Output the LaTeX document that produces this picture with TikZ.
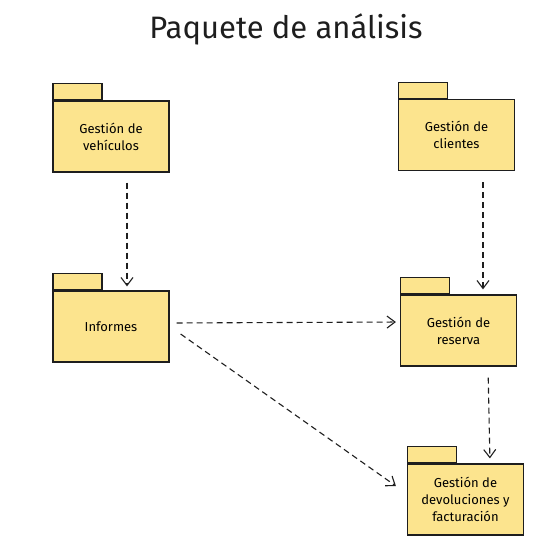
\documentclass[tikz,border=0pt]{standalone}
\usepackage{fontspec}
\setmainfont{Fira Sans}
\usepackage{xcolor}
\usepackage{tikz}
\usetikzlibrary{arrows.meta,positioning}
\definecolor{pkgyellow}{RGB}{252,228,142}
\definecolor{inkdark}{RGB}{30,30,30}

\begin{document}
\begin{tikzpicture}[x=1pt, y=-1pt,
    pkg/.style={rectangle, draw=inkdark, fill=pkgyellow, line width=1.2pt, minimum width=116pt, minimum height=71pt, align=center, font=\fontsize{13}{17}\selectfont, inner sep=0pt},
    pkgtab/.style={rectangle, draw=inkdark, fill=pkgyellow, line width=1.2pt, minimum width=49pt, minimum height=16pt, inner sep=0pt, anchor=south west},
    dep/.style={-{Straight Barb[length=8pt, width=12pt]}, dashed, dash pattern=on 6pt off 4pt, line width=1.1pt, draw=inkdark}
]
    \useasboundingbox (0,0) rectangle (557,547);

    \node[font=\fontsize{31}{36}\selectfont, text=inkdark] (title) at (286,29) {Paquete de análisis};

    % paquetes
    \node[pkg] (veh) at (111,136.5) {Gestión de\\vehículos};
    \node[pkg] (cli) at (456.5,135) {Gestión de\\clientes};
    \node[pkg] (inf) at (111,326.5) {Informes};
    \node[pkg] (res) at (458.5,330.5) {Gestión de\\reserva};
    \node[pkg] (dev) at (465.5,499.5) {Gestión de\\devoluciones y\\facturación};

    % pestanas
    \node[pkgtab] (vehtab) at (veh.north west) {};
    \node[pkgtab] (clitab) at (cli.north west) {};
    \node[pkgtab] (inftab) at (inf.north west) {};
    \node[pkgtab] (restab) at (res.north west) {};
    \node[pkgtab] (devtab) at (dev.north west) {};

    % dependencias
    \draw[dep, shorten <=10pt, shorten >=4pt] ([xshift=16pt]veh.south) -- ([xshift=16pt]inf.north);
    \draw[dep, shorten <=11pt, shorten >=5pt] ([xshift=26.5pt]cli.south) -- ([xshift=24.5pt]res.north);
    \draw[dep, shorten <=7pt, shorten >=4pt] ([yshift=3.5pt]inf.east) -- ([yshift=8.5pt]res.west);
    \draw[dep] ([xshift=11pt, yshift=-7.5pt]inf.east) -- ([xshift=-11pt, yshift=13.5pt]dev.west);
    \draw[dep, shorten <=11pt, shorten >=5pt] ([xshift=29.5pt]res.south) -- ([xshift=24.5pt]dev.north);
\end{tikzpicture}
\end{document}
